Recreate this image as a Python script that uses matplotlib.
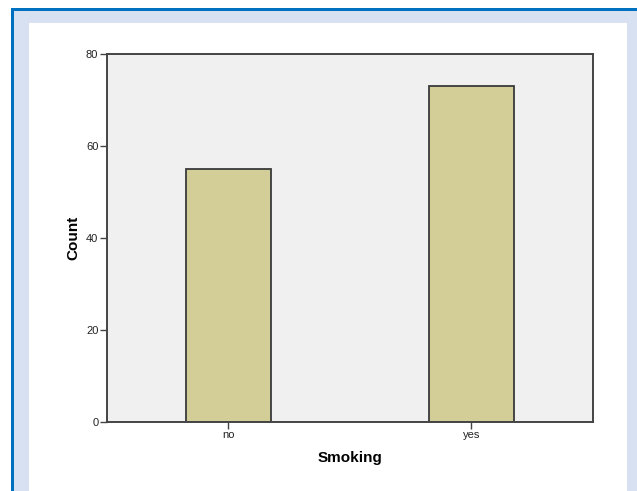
import matplotlib
matplotlib.use("Agg")
import matplotlib.pyplot as plt
from matplotlib.patches import Rectangle

categories = ["no", "yes"]
counts = [55, 73]
y_ticks = [0, 20, 40, 60, 80]

W, H = 637, 491
plt.rcParams['font.family'] = ['Liberation Sans', 'DejaVu Sans']

fig = plt.figure(figsize=(W / 100, H / 100), dpi=100, facecolor="white")


def px_rect(x0, y0, x1, y1, **kw):
    # rectangle given in pixel coords (origin top-left)
    r = Rectangle((x0 / W, 1 - y1 / H), (x1 - x0) / W, (y1 - y0) / H,
                  transform=fig.transFigure, zorder=-10, **kw)
    fig.add_artist(r)


# SPSS style frame
px_rect(11, 8, W + 5, H + 5, facecolor="#0070C0", edgecolor="none")
px_rect(13.5, 10.5, W + 5, H + 5, facecolor="#D8E1F1", edgecolor="none")
px_rect(29, 23, 627, H + 5, facecolor="white", edgecolor="none")

ax = fig.add_axes([106.7 / W, (H - 422) / H, (593 - 106.7) / W, (422 - 54) / H])
ax.set_facecolor("#F0F0F0")

xs = range(len(categories))
ax.bar(xs, counts, width=0.35, color="#D3CE97", edgecolor="#3A3A3A", linewidth=1.3, zorder=2)

ax.set_xlim(-0.5, 1.5)
ax.set_ylim(0, 80)
ax.set_xticks(list(xs))
ax.set_xticklabels(categories)
ax.set_yticks(y_ticks)

for s in ax.spines.values():
    s.set_color("#444444")
    s.set_linewidth(1.4)

ax.tick_params(axis="both", direction="out", length=5, width=1, color="#444444",
               labelsize=8, labelcolor="#222222", pad=1)

ax.set_xlabel("Smoking", fontsize=11, fontweight="bold", labelpad=7.5)
ax.set_ylabel("Count", fontsize=11, fontweight="bold", labelpad=4)

fig.savefig("out.png", dpi=100, facecolor=fig.get_facecolor())
